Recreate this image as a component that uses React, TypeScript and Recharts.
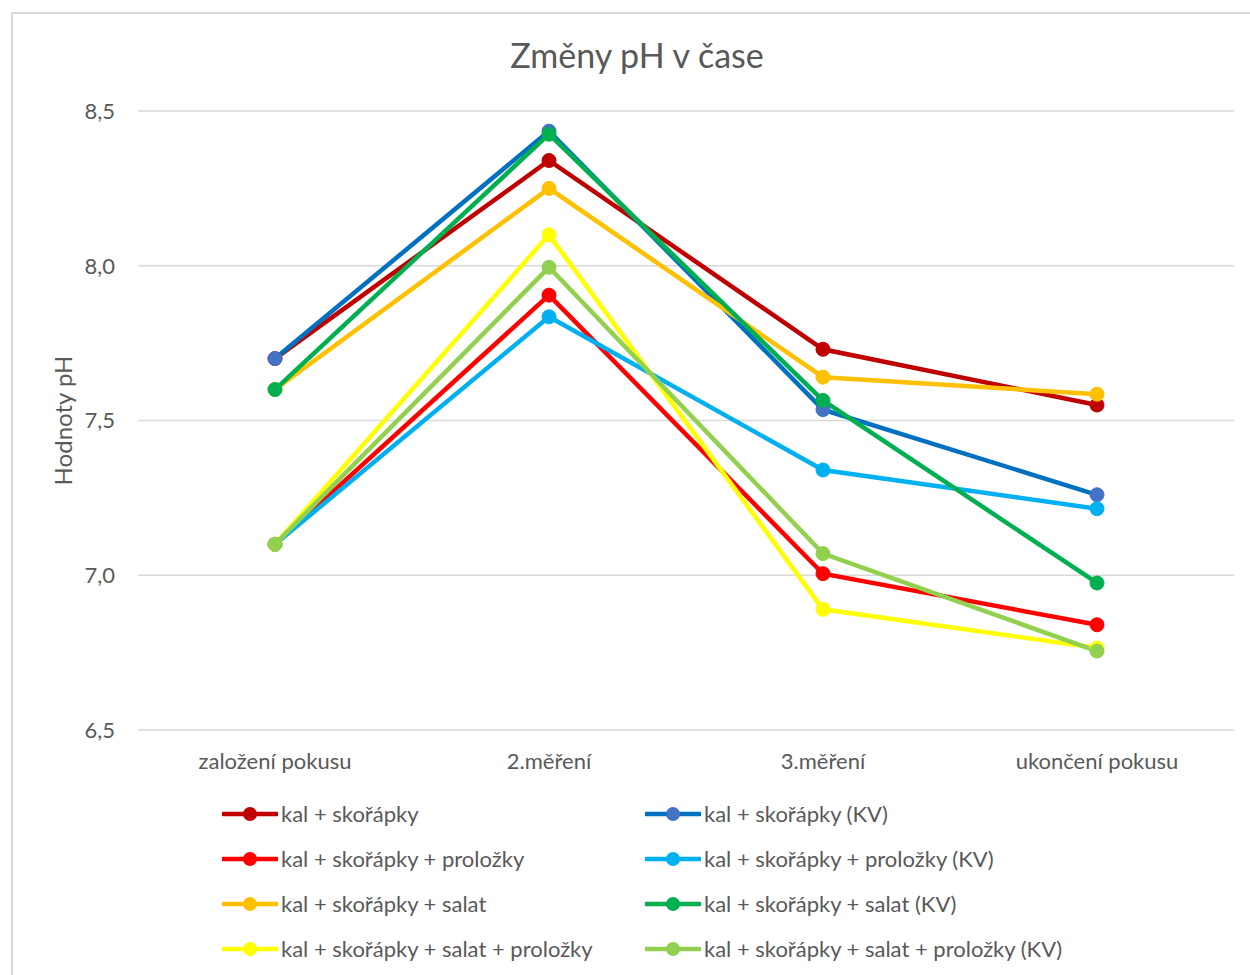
import { CartesianGrid, Legend, Line, LineChart, XAxis, YAxis } from "recharts";

const categories = ["založení pokusu", "2.měření", "3.měření", "ukončení pokusu"];

const kalSkorapky = [7.7, 8.34, 7.73, 7.55];
const kalSkorapkyKV = [7.7, 8.435, 7.535, 7.26];
const prolozky = [7.1, 7.905, 7.005, 6.84];
const prolozkyKV = [7.1, 7.835, 7.34, 7.215];
const salat = [7.6, 8.25, 7.64, 7.585];
const salatKV = [7.6, 8.425, 7.565, 6.975];
const salatProlozky = [7.1, 8.1, 6.89, 6.765];
const salatProlozkyKV = [7.1, 7.995, 7.07, 6.755];

const yTicks = [6.5, 7, 7.5, 8, 8.5];

const series = [
  { key: "s1", name: "kal + skořápky", values: kalSkorapky, line: "#C00000", marker: "#C00000" },
  { key: "s2", name: "kal + skořápky (KV)", values: kalSkorapkyKV, line: "#0070C0", marker: "#4472C4" },
  { key: "s3", name: "kal + skořápky + proložky", values: prolozky, line: "#FF0000", marker: "#FF0000" },
  { key: "s4", name: "kal + skořápky + proložky (KV)", values: prolozkyKV, line: "#00B0F0", marker: "#00B0F0" },
  { key: "s5", name: "kal + skořápky + salat", values: salat, line: "#FFC000", marker: "#FFC000" },
  { key: "s6", name: "kal + skořápky + salat (KV)", values: salatKV, line: "#00B050", marker: "#00B050" },
  { key: "s7", name: "kal + skořápky + salat + proložky", values: salatProlozky, line: "#FFFF00", marker: "#FFFF00" },
  { key: "s8", name: "kal + skořápky + salat + proložky (KV)", values: salatProlozkyKV, line: "#92D050", marker: "#92D050" },
];

const data = categories.map((name, i) => {
  const row: Record<string, string | number> = { name };
  series.forEach((s) => {
    row[s.key] = s.values[i];
  });
  return row;
});

const FONT = "Lato, 'Open Sans', sans-serif";
const TEXT = "#595959";
const W = 1248;
const H = 965;

function LegendBox() {
  return (
    <div style={{ position: "relative", width: W, height: 180, fontFamily: FONT }}>
      {series.map((s, i) => {
        const col = i % 2;
        const row = Math.floor(i / 2);
        const x = col === 0 ? 209 : 632;
        return (
          <div
            key={s.key}
            style={{
              position: "absolute",
              left: x,
              top: row * 45 - 2,
              height: 45,
              display: "flex",
              alignItems: "center",
              whiteSpace: "nowrap",
            }}
          >
            <svg width={56} height={16} style={{ display: "block" }}>
              <line x1={1} y1={8} x2={55} y2={8} stroke={s.line} strokeWidth={4.5} strokeLinecap="round" />
              <circle cx={28} cy={8} r={7} fill={s.marker} />
            </svg>
            <span style={{ marginLeft: 3, fontSize: 22, color: TEXT }}>{s.name}</span>
          </div>
        );
      })}
    </div>
  );
}

export default function App() {
  return (
    <div style={{ position: "absolute", left: 0, top: 0, width: 1250, height: 975, overflow: "hidden", background: "#fff" }}>
      <div
        style={{
          position: "absolute",
          left: 11,
          top: 12,
          width: W,
          height: H,
          border: "2px solid #DADADA",
          background: "#fff",
        }}
      >
        <div
          style={{
            position: "absolute",
            left: 0,
            top: 21,
            width: W,
            textAlign: "center",
            fontFamily: FONT,
            fontSize: 34,
            color: TEXT,
            lineHeight: "40px",
          }}
        >
          Změny pH v čase
        </div>
        <LineChart width={W} height={H} data={data} margin={{ top: 97, right: 27, left: 0, bottom: 6 }}>
          <CartesianGrid vertical={false} stroke="#D9D9D9" strokeWidth={1.5} />
          <XAxis
            dataKey="name"
            padding={{ left: 137, right: 137 }}
            axisLine={false}
            tickLine={false}
            tickSize={6}
            tickMargin={17}
            height={63}
            tick={{ fill: TEXT, fontSize: 22, fontFamily: FONT }}
          />
          <YAxis
            domain={[6.5, 8.5]}
            ticks={yTicks}
            width={125}
            axisLine={false}
            tickLine={false}
            tickSize={6}
            tickMargin={17}
            tickFormatter={(v: number) => v.toFixed(1).replace(".", ",")}
            tick={{ fill: TEXT, fontSize: 22, fontFamily: FONT }}
            label={{
              content: (props: any) => {
                const vb = props.viewBox || {};
                const cy = (vb.y || 0) + (vb.height || 0) / 2;
                return (
                  <text
                    x={49}
                    y={cy}
                    transform={`rotate(-90 49 ${cy})`}
                    textAnchor="middle"
                    dominantBaseline="central"
                    fill={TEXT}
                    fontSize={24}
                    fontFamily={FONT}
                  >
                    Hodnoty pH
                  </text>
                );
              },
            }}
          />
          <Legend
            verticalAlign="bottom"
            content={() => <LegendBox />}
            wrapperStyle={{ left: 0, width: W, height: 180 }}
          />
          {series.map((s) => (
            <Line
              key={s.key}
              type="linear"
              dataKey={s.key}
              name={s.name}
              stroke={s.line}
              strokeWidth={4.5}
              dot={{ r: 7, fill: s.marker, stroke: s.marker, strokeWidth: 1 }}
              activeDot={false}
              isAnimationActive={false}
            />
          ))}
        </LineChart>
      </div>
    </div>
  );
}
